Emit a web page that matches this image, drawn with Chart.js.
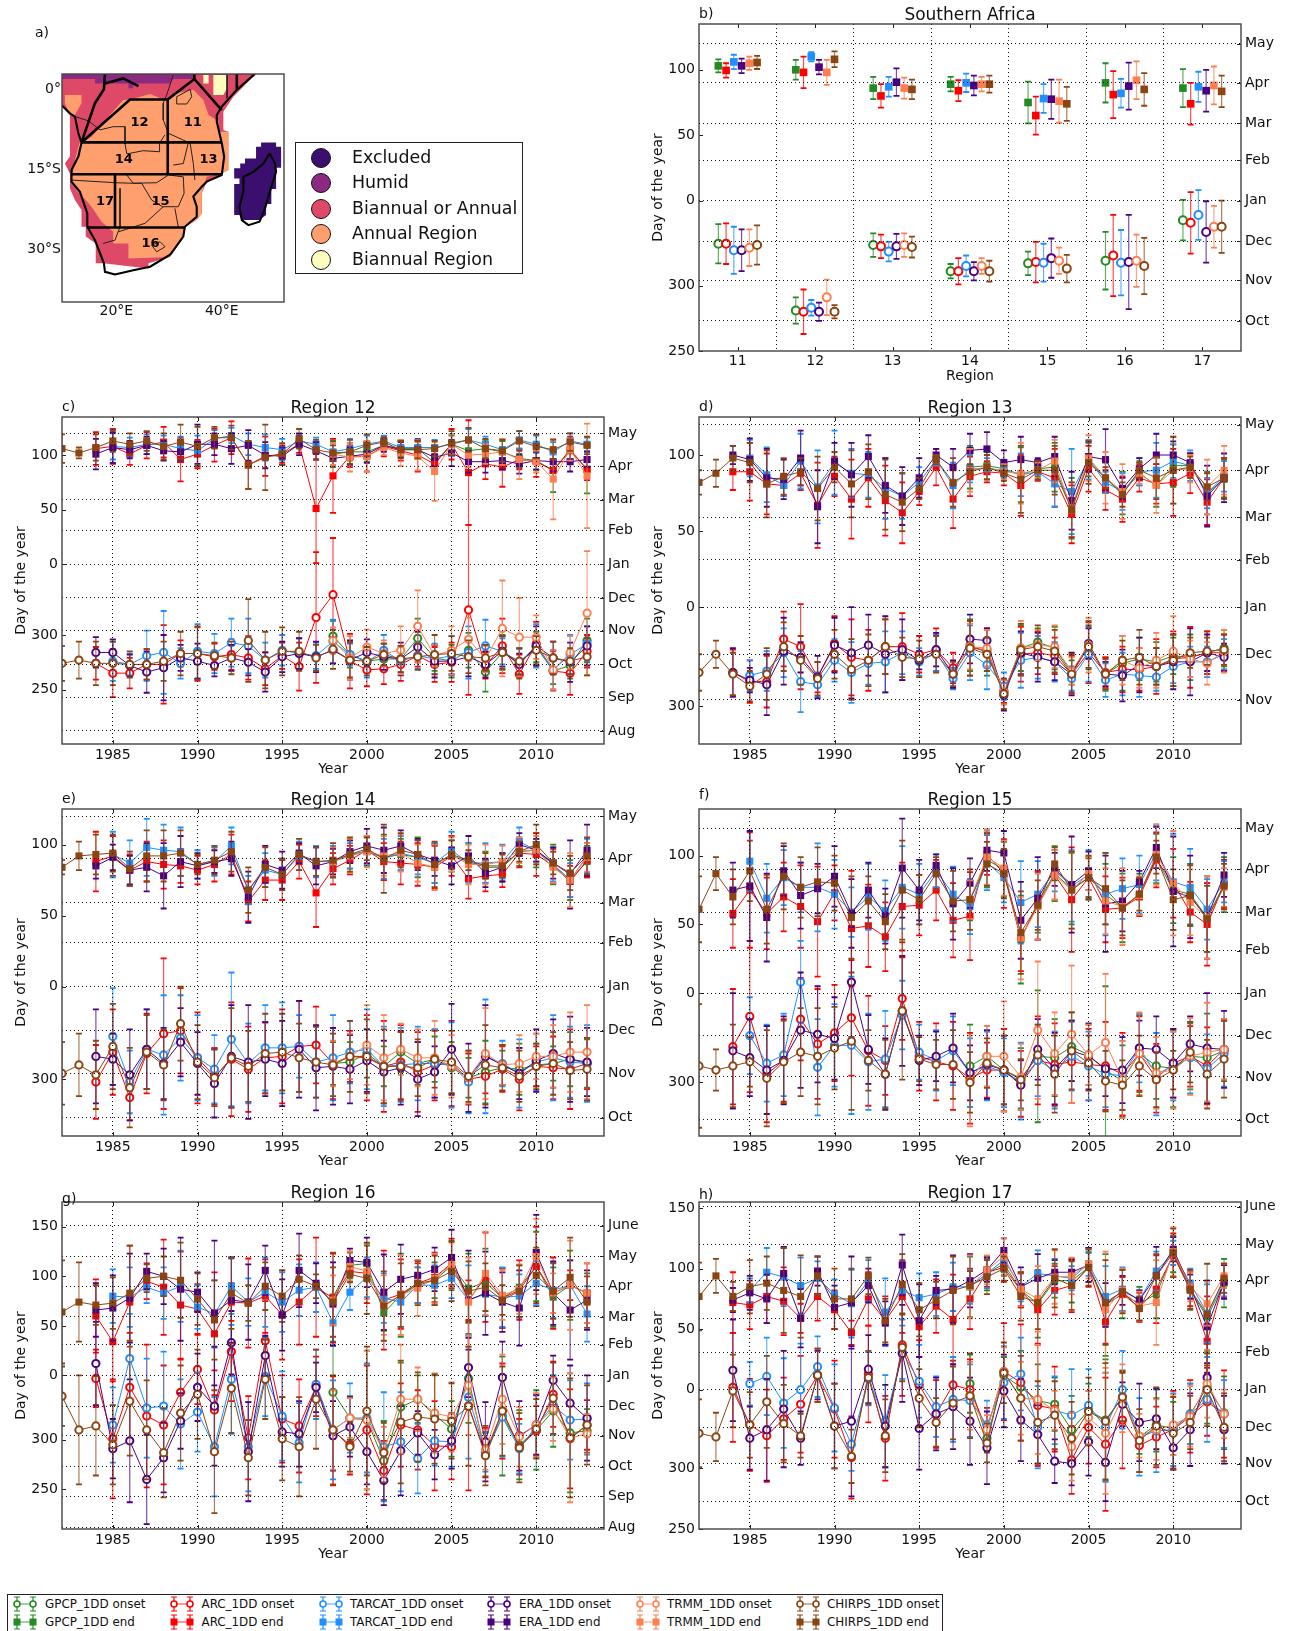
<!DOCTYPE html>
<html>
<head>
<meta charset="utf-8">
<title>Southern Africa onset and end</title>
<script src="https://cdn.jsdelivr.net/npm/chart.js@4"></script>
<style>
  html, body { margin: 0; padding: 0; background: #fff; }
  body { position: relative; width: 1290px; height: 1631px; overflow: hidden; font-family: "DejaVu Sans", sans-serif; color: #111; }
  canvas { position: absolute; }
  .letter { position: absolute; font-size: 14px; line-height: 16px; }
  #mapLegend { position: absolute; left: 295px; top: 142px; width: 228px; height: 132px; box-sizing: border-box; border: 1px solid #222; }
  #mapLegend div { position: absolute; left: 56px; font-size: 17.4px; line-height: 20px; white-space: nowrap; }
  #mapLegend i { position: absolute; left: 15px; width: 18px; height: 18px; border-radius: 50%; border: 1px solid #111; }
  #legend { position: absolute; left: 7px; top: 1594px; width: 936px; height: 40px; box-sizing: border-box; border: 1px solid #222; }
  #legend span { position: absolute; font-size: 11.9px; line-height: 14px; white-space: nowrap; }
  #legend svg { position: absolute; }
</style>
</head>
<body>
<script>
// series, in drawing order
const seriesNames = ["GPCP_1DD", "ARC_1DD", "TARCAT_1DD", "ERA_1DD", "TRMM_1DD", "CHIRPS_1DD"];
const seriesKeys = ["Gpcp", "Arc", "Tarcat", "Era", "Trmm", "Chirps"];
const seriesColors = ["#228B22", "#FF0000", "#1E90FF", "#4B0082", "#FF7F50", "#8B4513"];
const seriesStart = [1998, 1984, 1985, 1984, 1998, 1982];

const yearTicks = [1985, 1990, 1995, 2000, 2005, 2010];
const monthNames = ["June", "May", "Apr", "Mar", "Feb", "Jan", "Dec", "Nov", "Oct", "Sep", "Aug"];
const monthDays = [151, 120, 90, 59, 31, 0, -31, -61, -92, -122, -153];
const dayTicks = [150, 100, 50, 0, -65, -115];

// panel b, one value per region 11..17 (days relative to 1 Jan, negative = before it)
const bRegions = [11, 12, 13, 14, 15, 16, 17];
const bOffsets = [-0.25, -0.15, -0.05, 0.05, 0.15, 0.25];
var bGpcpEnd = [103, 100, 86, 89, 75, 90, 86], bGpcpEndErr = [5, 7.5, 8.5, 5.5, 16, 15, 14.5];
var bArcEnd = [99.5, 98, 80, 84, 65, 81, 74], bArcEndErr = [5.5, 12, 9, 8, 14.5, 18, 16];
var bTarcatEnd = [106, 110, 87, 90, 78, 82, 87], bTarcatEndErr = [5.5, 3.5, 7.5, 7, 11, 11, 11.5];
var bEraEnd = [103, 102, 90.5, 88, 77.5, 87.5, 84], bEraEndErr = [5.5, 5.5, 10.5, 7.5, 15, 18, 16];
var bTrmmEnd = [105, 98, 86, 89, 76, 92, 88], bTrmmEndErr = [5, 9.5, 8, 5.5, 16.5, 14.5, 14.5];
var bChirpsEnd = [105.6, 108, 85, 89, 74, 85, 83.5], bChirpsEndErr = [5, 6, 7.5, 6.5, 13, 12.5, 12];
var bGpcpOn = [-33, -84, -34, -54, -48, -46, -15], bGpcpOnErr = [15, 10, 9, 5.5, 9, 22, 15.5];
var bArcOn = [-33, -85, -35, -54, -47, -42, -17], bArcOnErr = [15.5, 17, 9, 10, 15.5, 31, 23.5];
var bTarcatOn = [-38, -82, -39, -50, -47.5, -47.5, -11], bTarcatOnErr = [18, 6, 7.5, 8, 14.5, 25, 19];
var bEraOn = [-38, -85, -35, -54, -44, -47, -24], bEraOnErr = [16, 7, 9.5, 7, 15, 36, 23.5];
var bTrmmOn = [-36, -74, -34, -50, -46, -46, -20], bTrmmOnErr = [14, 13.5, 9, 6, 10, 20, 16];
var bChirpsOn = [-34, -85, -35.5, -54, -52, -50, -20], bChirpsOnErr = [15, 5, 8, 8, 10.5, 21.5, 20];

// Region 12
var r12GpcpEnd = [101,103,103,109,106,106,93,110,104,106,103,97,95,86,104,87];
var r12GpcpEndErr = [12,8,9,5,7,8,8,8,8,8,10,9,9,20,8,22];
var r12GpcpOn = [-66,-83,-89,-87,-87,-68,-86,-89,-79,-99,-81,-91,-76,-98,-93,-70];
var r12GpcpOnErr = [14,12,8,10,12,18,12,15,16,18,16,14,14,12,12,20];
var r12ArcEnd = [106,108,101,109,112,96,101,109,116,91,99,101,110,51,81,99,99,108,104,100,92,110,84,92,89,96,94,86,105,87];
var r12ArcEndErr = [15,16,10,12,14,20,13,15,15,22,18,8,8,50,34,10,14,9,9,15,9,14,48,14,18,9,14,8,12,10];
var r12ArcOn = [-91,-100,-100,-92,-92,-82,-82,-85,-83,-86,-96,-84,-94,-49,-28,-89,-97,-96,-92,-84,-92,-90,-42,-93,-75,-101,-73,-98,-100,-80];
var r12ArcOnErr = [15,22,14,14,36,12,25,12,14,20,15,12,22,60,52,25,15,14,15,10,16,18,78,12,25,18,20,18,20,15];
var r12TarcatEnd = [108,107,110,110,106,104,115,118,110,107,105,113,110,103,106,110,113,107,107,107,110,114,110,105,114,110,103,113,110];
var r12TarcatEndErr = [12,9,9,8,11,14,8,7,10,12,10,6,6,8,9,8,5,7,7,7,9,10,7,10,8,8,9,7,6];
var r12TarcatOn = [-89,-92,-84,-81,-91,-80,-82,-72,-75,-88,-79,-82,-84,-71,-83,-90,-79,-89,-84,-87,-84,-81,-75,-80,-90,-75,-97,-83,-73];
var r12TarcatOnErr = [18,10,23,38,14,25,18,22,25,16,14,14,12,20,10,14,14,12,12,14,18,24,24,12,12,20,18,18,16];
var r12EraEnd = [101,107,105,109,104,103,110,110,106,109,100,99,110,104,97,99,101,109,105,105,98,102,94,94,95,92,95,94,94,96];
var r12EraEndErr = [14,14,8,8,9,8,18,10,14,14,12,8,10,8,6,8,8,6,7,8,8,12,10,10,8,9,8,9,9,7];
var r12EraOn = [-81,-81,-93,-99,-95,-86,-89,-93,-86,-90,-99,-85,-82,-85,-79,-88,-81,-85,-87,-76,-89,-89,-85,-92,-80,-92,-75,-86,-90,-75];
var r12EraOnErr = [14,12,10,19,30,12,16,10,12,12,18,14,14,14,12,18,12,12,15,14,15,12,18,12,14,10,18,15,18,18];
var r12TrmmEnd = [101,98,99,107,102,99,85,110,100,101,103,96,94,78,105,81];
var r12TrmmEndErr = [10,13,14,7,12,13,27,9,11,9,12,18,10,37,10,48];
var r12TrmmOn = [-70,-86,-76,-82,-79,-57,-84,-79,-69,-87,-59,-67,-67,-97,-81,-45];
var r12TrmmOnErr = [12,20,16,12,22,33,10,22,20,12,44,36,20,18,15,57];
var r12ChirpsEnd = [106,102,107,113,110,113,108,112,108,116,116,91,98,101,115,105,102,103,109,112,105,105,106,111,114,106,104,113,108,105,112,109];
var r12ChirpsEndErr = [13,5,12,10,10,9,12,16,18,10,11,22,30,10,9,9,7,11,10,4,8,8,7,11,11,9,10,9,11,9,8,8];
var r12ChirpsOn = [-91,-88,-91,-91,-92,-92,-89,-82,-82,-84,-86,-70,-88,-80,-80,-86,-78,-88,-89,-83,-87,-85,-83,-82,-85,-86,-81,-89,-79,-86,-89,-85];
var r12ChirpsOnErr = [16,17,20,20,12,14,18,20,24,12,15,38,26,22,18,12,18,16,13,10,12,12,18,16,15,12,15,12,13,15,12,17];

// Region 13
var r13GpcpEnd = [92,93,91,87,91,92,65,97,85,75,88,80,93,93,75,84];
var r13GpcpEndErr = [14,9,6,18,5,16,20,11,10,14,8,14,14,8,14,13];
var r13GpcpOn = [-25,-30,-56,-27,-23,-27,-43,-25,-44,-37,-34,-36,-32,-33,-30,-27];
var r13GpcpOnErr = [17,15,8,15,9,14,8,16,11,18,14,13,12,15,14,12];
var r13ArcEnd = [89,89,81,80,88,67,86,71,85,70,62,76,92,71,86,89,88,80,89,85,61,91,77,71,85,81,82,88,69,85];
var r13ArcEndErr = [12,19,20,7,11,28,13,26,19,23,20,9,12,19,13,7,8,20,6,19,19,15,13,15,9,13,22,13,15,13];
var r13ArcOn = [-43,-49,-49,-21,-26,-46,-24,-33,-35,-26,-26,-31,-28,-40,-27,-28,-55,-31,-30,-32,-44,-30,-43,-41,-41,-39,-34,-33,-30,-30];
var r13ArcOnErr = [15,14,17,18,28,10,18,25,20,18,22,12,14,10,18,14,8,18,14,12,12,20,10,15,14,18,18,20,14,12];
var r13TarcatEnd = [98,87,80,96,79,95,88,87,78,73,82,97,80,91,91,90,87,89,81,76,97,82,76,89,90,96,93,75,86];
var r13TarcatEndErr = [12,18,7,18,24,21,16,15,20,15,10,4,15,9,7,5,14,5,15,28,13,7,12,9,18,11,10,10,10];
var r13TarcatOn = [-45,-42,-30,-49,-51,-35,-43,-37,-36,-30,-36,-30,-47,-30,-38,-52,-35,-33,-36,-47,-31,-48,-44,-45,-46,-39,-36,-36,-31];
var r13TarcatOnErr = [10,13,16,20,8,14,20,14,20,14,9,12,7,18,16,9,18,14,13,8,18,11,14,14,9,11,10,10,10];
var r13EraEnd = [100,97,85,84,98,66,96,87,99,80,73,85,100,92,103,104,95,97,95,99,70,99,97,78,91,100,100,95,73,85];
var r13EraEndErr = [6,14,19,13,18,24,12,21,14,18,19,13,4,12,11,11,8,15,3,13,19,10,20,7,7,14,9,6,20,16];
var r13EraOn = [-43,-48,-51,-29,-33,-46,-25,-30,-25,-31,-28,-35,-28,-44,-21,-22,-58,-30,-33,-36,-44,-24,-44,-45,-38,-39,-36,-36,-30,-33];
var r13EraOnErr = [16,8,20,22,10,14,18,30,20,25,20,6,11,9,16,8,10,14,16,12,14,10,8,17,18,12,18,22,12,9];
var r13TrmmEnd = [90,92,89,88,90,96,64,98,85,76,88,80,90,91,79,90];
var r13TrmmEndErr = [14,8,5,20,5,14,18,15,17,18,7,18,22,9,18,16];
var r13TrmmOn = [-26,-27,-56,-27,-25,-26,-42,-25,-44,-35,-40,-35,-29,-34,-37,-29];
var r13TrmmOnErr = [15,12,8,18,10,14,9,18,10,16,13,18,23,12,14,14];
var r13ChirpsEnd = [82,88,98,95,81,86,89,78,92,81,89,74,69,78,97,82,89,92,88,84,90,90,64,95,85,74,90,85,90,92,79,85];
var r13ChirpsEndErr = [8,9,8,13,22,12,9,21,10,22,18,23,19,7,3,16,5,8,5,22,6,16,18,14,7,8,5,14,22,7,9,13];
var r13ChirpsOn = [-43,-31,-44,-52,-44,-26,-35,-47,-31,-41,-35,-26,-33,-34,-31,-44,-27,-31,-57,-28,-26,-29,-44,-26,-44,-35,-33,-39,-35,-30,-29,-28];
var r13ChirpsOnErr = [12,9,14,10,17,16,16,11,16,20,17,18,13,12,12,8,18,11,10,17,14,14,13,14,10,13,18,12,17,10,9,10];

// Region 14
var r14GpcpEnd = [88,93,95,91,93,91,87,92,88,84,84,95,96,86,75,88];
var r14GpcpEndErr = [11,10,10,16,11,14,14,11,13,11,10,10,12,14,14,11];
var r14GpcpOn = [-54,-53,-47,-56,-46,-54,-51,-57,-64,-60,-57,-58,-55,-54,-51,-54];
var r14GpcpOnErr = [15,14,17,14,14,15,16,18,14,22,12,18,15,12,19,17];
var r14ArcEnd = [88,92,82,88,86,85,82,86,93,60,75,75,88,66,83,89,96,88,87,86,84,92,76,78,79,94,93,85,74,89];
var r14ArcEndErr = [21,14,11,14,17,12,10,12,14,14,14,14,12,24,11,10,10,13,15,15,15,14,14,11,9,10,15,12,11,12];
var r14ArcOn = [-67,-46,-78,-47,-33,-31,-50,-63,-51,-58,-50,-49,-42,-41,-54,-49,-50,-56,-53,-60,-55,-54,-65,-63,-58,-65,-56,-57,-58,-54];
var r14ArcOnErr = [26,30,16,28,53,30,32,20,40,30,25,33,32,27,25,18,30,32,26,28,25,30,18,12,16,22,14,22,28,18];
var r14TarcatEnd = [93,87,98,96,95,86,88,99,68,82,79,92,88,88,92,96,90,94,91,87,96,87,87,88,102,96,86,75,92];
var r14TarcatEndErr = [16,16,20,18,17,10,10,13,10,12,11,10,11,11,9,10,14,12,12,14,13,14,14,12,10,8,12,12,12];
var r14TarcatOn = [-35,-67,-44,-48,-36,-50,-58,-37,-54,-43,-43,-42,-53,-50,-46,-44,-56,-55,-54,-54,-55,-67,-49,-54,-61,-53,-50,-53,-54];
var r14TarcatOnErr = [34,22,28,42,30,30,24,47,28,30,32,22,25,30,22,28,28,26,26,24,30,22,40,16,24,20,30,25,27];
var r14EraEnd = [85,91,82,84,78,88,85,88,90,63,86,82,94,85,88,95,99,96,99,93,89,85,92,80,84,100,96,87,79,96];
var r14EraEndErr = [9,9,10,17,23,18,9,8,12,18,13,13,7,13,9,8,12,16,11,11,11,13,14,10,10,8,8,11,24,18];
var r14EraOn = [-49,-51,-62,-44,-54,-39,-54,-68,-49,-53,-51,-54,-44,-57,-56,-58,-52,-60,-57,-65,-60,-44,-64,-49,-55,-61,-52,-47,-51,-53];
var r14EraOnErr = [33,18,32,28,25,24,22,24,36,40,26,30,34,30,27,24,22,22,26,26,18,32,24,36,14,18,22,24,30,24];
var r14TrmmEnd = [88,92,95,92,94,87,84,93,86,86,88,96,96,84,75,91];
var r14TrmmEndErr = [10,12,11,14,13,13,16,12,14,14,11,9,10,11,19,10];
var r14TrmmOn = [-54,-49,-41,-50,-44,-50,-50,-56,-64,-47,-55,-54,-49,-49,-46,-46];
var r14TrmmOnErr = [16,16,28,30,18,20,26,22,18,32,14,20,16,22,28,33];
var r14ChirpsEnd = [84,92,93,94,83,92,92,94,86,89,95,68,84,79,93,88,89,93,97,90,96,93,86,93,89,85,85,95,100,87,80,92];
var r14ChirpsEndErr = [5,10,14,13,12,18,18,16,7,10,14,16,14,11,11,10,12,12,8,24,12,10,16,10,7,9,8,7,14,8,12,13];
var r14ChirpsOn = [-61,-55,-62,-42,-71,-46,-55,-26,-53,-64,-50,-56,-47,-46,-50,-53,-55,-49,-49,-56,-56,-57,-51,-53,-63,-55,-57,-63,-56,-54,-59,-58];
var r14ChirpsOnErr = [22,22,24,30,28,26,25,26,26,20,35,25,28,27,24,25,22,25,26,26,24,20,20,22,18,28,16,18,16,22,20,22];

// Region 15
var r15GpcpEnd = [68,97,90,39,66,87,76,84,72,62,72,98,75,72,55,79];
var r15GpcpEndErr = [15,20,20,32,22,20,26,14,22,25,15,18,24,22,25,20];
var r15GpcpOn = [-53,-46,-56,-62,-46,-47,-39,-45,-56,-64,-44,-53,-55,-46,-47,-42];
var r15GpcpOnErr = [30,22,30,22,48,28,25,22,61,26,28,24,28,24,32,22];
var r15ArcEnd = [58,75,58,70,63,52,73,47,49,41,63,64,75,53,56,101,87,40,64,86,68,84,61,62,70,97,80,59,50,79];
var r15ArcEndErr = [25,42,26,25,30,40,20,42,30,25,32,22,22,27,32,15,25,24,25,18,38,15,24,22,14,20,25,22,30,18];
var r15ArcOn = [-39,-17,-59,-49,-19,-37,-29,-18,-42,-49,-4,-46,-50,-53,-62,-56,-56,-66,-49,-52,-50,-52,-53,-59,-44,-62,-51,-46,-53,-41];
var r15ArcOnErr = [42,55,35,30,30,40,35,42,40,25,30,25,28,32,33,20,30,24,32,30,30,26,32,30,27,25,25,22,28,22];
var r15TarcatEnd = [96,69,84,77,77,72,59,70,60,77,72,89,72,63,95,84,66,72,89,78,86,72,76,79,102,81,77,61,81];
var r15TarcatEndErr = [22,25,20,18,32,25,18,24,22,30,22,12,20,20,20,18,30,24,15,26,18,30,22,21,20,35,28,22,15];
var r15TarcatOn = [-31,-51,-45,8,-54,-38,-38,-50,-48,-16,-43,-49,-42,-58,-53,-58,-64,-49,-56,-46,-53,-59,-60,-40,-59,-53,-47,-55,-44];
var r15TarcatOnErr = [28,28,30,30,35,30,50,35,35,25,20,22,25,25,25,25,28,26,28,25,25,24,25,25,30,25,26,25,24];
var r15EraEnd = [75,78,55,89,71,76,85,58,75,56,91,75,93,65,80,104,102,53,69,90,79,89,65,67,81,106,74,70,55,86];
var r15EraEndErr = [20,40,32,18,24,18,22,25,20,20,36,22,8,26,18,15,16,28,30,12,35,14,35,22,8,15,40,30,30,16];
var r15EraOn = [-42,-47,-56,-49,-27,-30,-33,8,-41,-59,-13,-49,-46,-40,-58,-52,-56,-67,-41,-55,-42,-46,-55,-56,-40,-41,-51,-37,-40,-41];
var r15EraOnErr = [42,28,32,32,42,35,30,40,25,26,40,18,18,25,20,25,25,18,22,26,22,24,20,24,20,24,25,20,40,28];
var r15TrmmEnd = [68,99,91,40,63,86,75,87,67,63,71,101,80,66,55,77];
var r15TrmmEndErr = [14,20,20,30,24,18,28,12,24,28,14,22,38,24,30,14];
var r15TrmmOn = [-64,-46,-46,-61,-27,-44,-30,-45,-36,-63,-44,-58,-56,-46,-43,-41];
var r15TrmmOnErr = [33,22,40,24,50,30,50,22,50,28,30,26,28,28,36,22];
var r15ChirpsEnd = [61,87,70,89,61,85,77,81,80,55,67,52,75,68,87,67,68,94,87,44,64,94,75,84,76,62,72,99,68,71,54,78];
var r15ChirpsEndErr = [24,12,20,22,25,24,22,25,20,30,18,20,36,18,12,22,22,16,18,30,18,12,28,16,26,20,12,12,22,22,24,16];
var r15ChirpsOn = [-53,-56,-53,-50,-62,-50,-43,-46,-40,-35,-49,-59,-13,-48,-52,-52,-65,-51,-56,-63,-45,-59,-42,-51,-64,-67,-53,-63,-56,-43,-59,-48];
var r15ChirpsOnErr = [45,15,30,18,35,30,32,35,30,50,22,25,50,16,18,25,22,18,25,15,22,28,28,20,22,18,22,20,14,22,25,28];

// Region 16
var r16GpcpEnd = [79,111,113,63,81,91,96,111,88,94,78,89,110,79,91,83];
var r16GpcpEndErr = [45,13,18,18,42,18,18,25,35,34,30,22,35,30,35,20];
var r16GpcpOn = [-17,-43,-45,-86,-32,-24,-40,-54,-3,-80,-41,-70,-55,-36,-58,-56];
var r16GpcpOnErr = [47,22,70,40,45,24,40,28,45,22,60,35,40,36,60,22];
var r16ArcEnd = [60,34,74,95,89,71,67,42,74,73,80,61,74,89,78,105,103,76,82,93,99,113,76,99,78,86,110,83,91,83];
var r16ArcEndErr = [37,40,57,18,48,54,25,62,19,45,37,45,43,50,45,20,30,50,35,20,25,25,20,45,30,30,40,36,15,30];
var r16ArcOn = [-3,-64,-12,-41,-50,-17,6,-35,24,-63,35,-44,-51,-11,-56,-70,-55,-96,-50,-55,-71,-72,-31,-78,-36,-72,-56,-19,-64,-50];
var r16ArcOnErr = [29,60,55,72,60,33,35,40,50,42,40,44,47,30,55,30,65,30,42,40,45,33,85,25,48,28,25,33,50,25];
var r16TarcatEnd = [80,79,89,83,90,69,62,90,74,84,74,86,89,53,84,99,78,74,91,91,98,76,82,79,80,93,86,91,62];
var r16TarcatEndErr = [27,30,16,26,36,22,34,28,24,35,30,26,25,23,18,20,25,25,18,20,20,35,22,30,22,22,28,25,28];
var r16TarcatOn = [-50,17,-33,-31,-49,-37,-72,-4,-72,-1,-41,-68,-9,-55,-43,-43,-72,-67,-84,-66,-67,-22,-77,-42,-74,-51,-30,-45,-44];
var r16TarcatOnErr = [38,45,50,55,45,40,50,55,45,40,45,40,35,50,35,55,55,50,35,25,25,62,20,40,25,32,30,40,36];
var r16EraEnd = [66,68,78,105,100,87,84,63,76,74,106,61,106,93,72,116,114,84,97,101,107,119,76,83,74,68,124,83,66,76];
var r16EraEndErr = [27,33,45,18,28,52,20,73,43,38,25,36,37,20,42,12,25,38,35,15,22,28,50,42,30,38,38,32,50,30];
var r16EraOn = [12,-74,-66,-105,-83,-46,-12,-31,33,-77,20,-57,-59,-12,-61,-52,-77,-106,-76,-58,-80,-66,8,-67,-2,-61,-50,-5,-28,-43];
var r16EraOnErr = [42,30,62,45,35,28,34,60,32,50,20,35,33,25,35,30,33,25,45,22,25,28,30,40,36,35,30,25,38,43];
var r16TrmmEnd = [76,110,105,71,81,88,98,112,74,103,81,87,120,83,91,83];
var r16TrmmEndErr = [25,15,28,30,40,28,25,22,45,42,25,25,38,20,45,30];
var r16TrmmOn = [-55,-43,-45,-77,-24,-24,-38,-42,-10,-75,-24,-62,-50,-34,-63,-59];
var r16TrmmOnErr = [40,20,70,25,55,32,40,35,50,20,45,30,32,32,65,20];
var r16ChirpsEnd = [64,74,71,73,83,98,100,96,77,56,83,73,90,80,97,90,74,102,98,70,81,93,96,105,85,89,76,85,101,85,99,74];
var r16ChirpsEndErr = [52,40,20,26,48,14,20,38,26,40,36,18,24,26,24,12,35,8,36,35,32,22,25,30,30,24,15,26,28,28,40,26];
var r16ChirpsOn = [-21,-55,-51,-70,-26,-55,-78,-38,-19,-77,-13,-83,-4,-64,-72,-24,-55,-72,-36,-78,-47,-42,-44,-46,-31,-81,-36,-73,-54,-23,-63,-50];
var r16ChirpsOnErr = [30,55,50,40,55,50,45,48,45,62,45,38,40,42,50,50,55,25,65,30,62,45,45,38,60,30,45,35,30,36,60,40];

// Region 17
var r17GpcpEnd = [85,96,104,82,71,90,90,101,70,79,71,79,112,82,60,88];
var r17GpcpEndErr = [25,14,10,14,28,14,18,12,42,20,14,20,15,16,30,20];
var r17GpcpOn = [5,-40,12,2,-9,-12,-33,-17,-25,-6,-39,-29,-32,-20,2,-19];
var r17GpcpOnErr = [24,12,15,30,30,22,28,22,50,22,14,22,22,25,30,30];
var r17ArcEnd = [72,70,77,73,59,77,66,47,75,57,77,52,69,58,75,97,101,82,66,82,86,101,56,79,68,83,111,83,40,90];
var r17ArcEndErr = [25,20,22,28,12,20,16,10,22,20,30,25,22,37,25,12,12,14,28,20,22,16,18,14,12,28,18,14,37,14];
var r17ArcOn = [2,-29,-38,-24,-12,12,-16,-56,13,-40,37,4,-20,4,0,-33,15,6,-13,-16,-58,-31,-45,-25,-46,-39,-33,-22,-10,-20];
var r17ArcOnErr = [45,38,38,34,40,22,40,34,40,35,42,37,28,20,25,18,40,48,50,35,28,30,55,40,22,25,32,30,28,36];
var r17TarcatEnd = [82,97,93,86,92,79,71,90,64,82,76,79,85,85,96,107,85,96,94,92,104,77,83,74,98,113,88,63,90];
var r17TarcatEndErr = [10,20,24,23,14,12,28,17,28,24,20,18,20,14,12,10,12,19,14,10,10,25,18,8,16,10,12,24,13];
var r17TarcatOn = [5,11,-11,0,19,-15,-45,9,-26,31,7,-14,-8,-9,-29,6,13,-31,-17,-21,-13,-31,0,-39,-34,-33,-20,-8,-20];
var r17TarcatOnErr = [18,32,37,38,25,36,22,22,38,22,30,25,35,30,20,30,30,34,28,38,30,45,32,32,34,30,25,35,28];
var r17EraEnd = [74,80,75,96,59,98,68,72,86,55,103,57,82,83,90,99,115,85,92,97,97,103,70,82,74,94,116,85,52,89];
var r17EraEndErr = [10,14,20,22,24,12,18,38,14,18,25,30,12,28,22,10,10,16,20,10,10,14,18,12,8,24,10,10,38,14];
var r17EraOn = [16,-40,-33,-16,-40,12,-30,-26,17,-30,30,-32,-20,-14,-26,-48,-1,-25,-37,-59,-61,-43,-60,-12,-27,-24,-48,-33,10,-33];
var r17EraOnErr = [42,26,42,48,22,20,35,62,28,34,40,34,30,35,36,30,30,34,24,18,18,28,32,18,32,25,18,30,12,28];
var r17TrmmEnd = [85,99,110,83,75,93,94,104,66,82,69,72,114,85,71,94];
var r17TrmmEndErr = [26,12,15,14,27,22,15,12,48,18,12,35,20,12,18,10];
var r17TrmmOn = [-5,-33,15,-7,-8,-17,-47,-23,-36,-7,-38,-33,-29,-22,5,-20];
var r17TrmmOnErr = [28,12,20,30,45,16,28,22,50,28,18,25,25,25,28,20];
var r17ChirpsEnd = [77,94,77,85,88,82,77,94,75,75,94,57,87,66,74,82,86,93,100,77,72,92,86,101,72,81,67,94,113,83,62,92];
var r17ChirpsEndErr = [28,14,12,22,22,35,34,16,25,25,15,18,25,22,15,28,12,14,10,20,22,24,20,15,35,18,10,18,20,16,42,12];
var r17ChirpsOn = [-36,-39,-1,-29,-10,-28,-38,12,-30,-55,10,-38,35,-7,-27,-11,-5,-44,14,-7,-27,-21,-40,-18,-26,-6,-42,-30,-36,-27,0,-31];
var r17ChirpsOnErr = [28,20,30,27,38,32,18,22,35,22,22,30,28,24,20,30,35,16,25,35,34,28,30,28,48,20,26,32,30,22,30,28];

// map of panel a, [lon, lat]
const classNames = ["Excluded", "Humid", "Biannual or Annual", "Annual Region", "Biannual Region"];
const classColors = ["#3B0F70", "#8C2981", "#DE4968", "#FE9F6D", "#FCFDBF"];
const pinkArea = [[9.6,2.9],[46.3,2.9],[44.4,.8],[42.2,-1.4],[40.3,-4.2],[40.3,-7.6],[41.25,-7.95],[41.25,-15.1],[40,-15.75],[37.15,-17.3],[36.2,-19.5],[36.2,-23.25],[35.25,-24.5],[33,-25.75],[32.4,-28.25],[30.2,-31.4],[26.1,-32.6],[26.1,-33.55],[17.5,-32.6],[16.1,-32.6],[16.1,-28.9],[14.2,-27.6],[14.2,-25.75],[13.4,-25.75],[13.4,-22.6],[12.15,-20.75],[11.2,-18.55],[11.2,-15.75],[10.25,-13.9],[11.2,-12.6],[11.2,-4.8],[9.6,-2.95]];
const annualArea = [[22.6,-1.9],[26.4,-.9],[28.9,-1.9],[30.8,-1.4],[31.45,-.75],[34.6,-.1],[36.5,-2],[37.5,-4.8],[39.4,-6.05],[39.4,-7.95],[41.25,-7.95],[41.25,-15.1],[40,-15.75],[37.15,-16.4],[36.2,-19.5],[36.2,-23.25],[35.25,-24.5],[33,-25.75],[32.4,-28.25],[30.2,-31.4],[22.3,-31.7],[22.3,-28.9],[19.4,-28.9],[19.4,-26.7],[17.2,-24.8],[15.3,-22],[14.2,-20.75],[12.5,-19],[11.5,-17],[12.15,-13.25],[13,-10.1],[15.3,-8.9],[18.8,-4.8],[21.3,-2]];
const annualPatch = [[10.25,-1.05],[13.4,-1.05],[13.4,-2.6],[12.15,-4.8],[11.2,-4.8],[10.25,-2.6]];
const humidArea = [[9.6,2.9],[34.6,2.9],[34.6,1.95],[30.8,1.95],[30.2,1.1],[23.2,1.1],[23.2,.2],[22.3,.2],[22.3,1.1],[15.95,1.1],[15.95,1.95],[9.6,1.95]];
const biannualArea = [[38.4,2.7],[41,2.7],[41,.2],[40.3,-1.05],[38.4,-1.05]];
const biannualPatch = [[36.5,2.7],[37.5,2.7],[37.5,1.1],[36.5,1.1]];
const excludedArea = [[47.45,-9.95],[50.3,-9.95],[50.3,-10.75],[51.25,-10.75],[51.25,-14.7],[50.3,-14.7],[50.3,-18.7],[49.4,-18.7],[49.4,-21.5],[48.4,-21.5],[48.4,-23.55],[47.15,-24.5],[43.8,-24.5],[43.35,-23.55],[42.35,-23.55],[42.35,-17.75],[43.35,-17.75],[43.35,-16.7],[42.35,-16.7],[42.35,-14.8],[43.5,-14.8],[43.5,-13.9],[44.4,-13.9],[44.4,-12.95],[46.5,-12.95],[46.5,-10.75],[47.45,-10.75]];
const coastLine = [[9.6,-2.95],[11.2,-4.5],[12.15,-5.1],[12.8,-8.25],[13.4,-10],[12.8,-12.6],[11.5,-15.1],[11.5,-17.3],[13.1,-19.2],[14.5,-23.25],[14.5,-25.75],[15.95,-28.25],[17.65,-32.6],[17.85,-34.2],[19.75,-34.7],[23.2,-33.9],[26.4,-33.25],[30.2,-31],[32.7,-27.6],[33,-25.75],[35.25,-23.9],[35.25,-22],[34.6,-20.1],[36.2,-18.25],[37.15,-17.3],[40,-16.05],[40.45,-12.6],[40,-10.1],[39.05,-6.05],[39.05,-4.8],[40,-3.25],[42.85,-.1],[46.3,2.9]];
const madagascarLine = [[49.05,-12],[50.1,-13.9],[50.3,-15.45],[49.2,-18.9],[48.2,-22.3],[47.15,-24.8],[45.05,-25.45],[43.8,-24.5],[43.35,-22],[44.1,-19.2],[44.1,-16.4],[46,-15.45],[47.9,-13.9],[49.05,-12]];
const boxLines = [
  [[13.4,-9.95],[22.6,-1.9],[29.75,-1.9]], [[13.4,-9.95],[40,-9.95]], [[29.75,-1.9],[29.75,-15.9]],
  [[11.5,-15.9],[40,-15.9]], [[19.75,-15.9],[19.75,-25.9]], [[14.5,-25.9],[32.9,-25.9]],
  [[29.75,-1.9],[34.8,1.95],[40,-3.9]], [[34.8,2.9],[34.8,1.95]], [[42.85,2.9],[42.85,-.1]],
  [[17.85,2.9],[17.65,0],[15.95,-2.6],[13.4,-9.95]], [[17.85,1.1],[21.3,2.05],[24.2,.6]]
];
const borderLines = [
  [[12.15,-5.1],[14.7,-5.9],[16.9,-7.6],[19.4,-7],[21.65,-7],[21.65,-10.25],[22,-12.1],[25.1,-11.5],[28.2,-11.7],[28.2,-10.1],[29.2,-8.55]],
  [[30.8,2.7],[29.55,-1.05],[28.9,-2.6],[28.9,-5.75],[29.9,-8.25],[34,-10.1],[34.6,-13.9],[34.9,-17]],
  [[30.8,-14.2],[32.7,-13.9],[33.7,-9.8]],
  [[11.5,-17],[19.75,-17.5],[23.2,-17.6],[27.65,-17.5],[29.9,-16.05],[32.7,-16.4],[32.85,-19.5],[31.75,-22],[28.9,-22],[25.45,-25.1],[20.4,-26.7]],
  [[21.95,-16],[23.2,-17.6],[24.8,-17.6],[26.7,-20.75],[28.9,-22.1]],
  [[20.7,-18.55],[20.7,-25.75],[19.75,-28.25],[17.5,-28.9]],
  [[31.1,-22.3],[31.75,-25.75]],
  [[26.7,-29.2],[28.3,-28.55],[29.25,-29.5],[27.65,-30.45],[26.7,-29.2]],
  [[31.45,-1.4],[34,0],[34.3,-1.4],[33.35,-2.75],[31.45,-2.75],[31.45,-1.4]],
  [[41,2.7],[41,-1.7]]
];
const mapRegionNames = ["11", "12", "13", "14", "15", "16", "17"];
const mapRegionLon = [34.5, 24.4, 37.5, 21.4, 28.4, 26.5, 17.85];
const mapRegionLat = [-6.2, -6.2, -13.1, -13.1, -21, -29, -21];
const mapLonTicks = [20, 40];
const mapLatTicks = [0, -15, -30];

Chart.defaults.font.family = '"DejaVu Sans", sans-serif';
Chart.defaults.font.size = 14;
Chart.defaults.color = "#111";
Chart.defaults.animation = false;

const PLOT_W = 542, PLOT_H = 327, LEFT_W = 62, TOP_H = 24, BOTTOM_H = 34;
const COLS = [0, 637];
const ROWS = { c: 417, e: 809, g: 1202 };

function addCanvas(x, y, w, h) {
  const c = document.createElement("canvas");
  c.width = w; c.height = h;
  c.style.left = x + "px"; c.style.top = y + "px";
  c.style.width = w + "px"; c.style.height = h + "px";
  document.body.appendChild(c);
  return c;
}

function addLetter(text, x, y) {
  const d = document.createElement("div");
  d.className = "letter";
  d.textContent = text;
  d.style.left = x + "px"; d.style.top = y + "px";
  document.body.appendChild(d);
}

function rgba(hex, a) {
  const n = parseInt(hex.slice(1), 16);
  return `rgba(${n >> 16},${(n >> 8) & 255},${n & 255},${a})`;
}

// error bars go under the line of their own dataset
const errorBars = {
  id: "errorBars",
  beforeDatasetDraw(chart, args) {
    const ds = chart.data.datasets[args.index];
    if (!ds.errs) return;
    const { ctx, chartArea: a, scales } = chart;
    ctx.save();
    ctx.beginPath();
    ctx.rect(a.left, a.top, a.right - a.left, a.bottom - a.top);
    ctx.clip();
    ds.data.forEach((p, i) => {
      const e = ds.errs[i];
      if (e === undefined) return;
      const x = scales.x.getPixelForValue(p.x);
      const y1 = scales.y.getPixelForValue(p.y + e);
      const y2 = scales.y.getPixelForValue(p.y - e);
      ctx.strokeStyle = rgba(ds.borderColor, 0.7);
      ctx.lineWidth = 1.2;
      ctx.beginPath(); ctx.moveTo(x, y1); ctx.lineTo(x, y2); ctx.stroke();
      ctx.strokeStyle = ds.borderColor;
      ctx.lineWidth = 1.8;
      ctx.beginPath();
      ctx.moveTo(x - 3, y1); ctx.lineTo(x + 3, y1);
      ctx.moveTo(x - 3, y2); ctx.lineTo(x + 3, y2);
      ctx.stroke();
    });
    ctx.restore();
  }
};

// axes frame with matplotlib style inward ticks
const frame = {
  id: "frame",
  afterDraw(chart) {
    const { ctx, chartArea: a, scales } = chart;
    const opts = chart.options.plugins.frame || {};
    ctx.save();
    ctx.strokeStyle = "#222";
    ctx.lineWidth = 1;
    if (opts.ticks !== false) {
      scales.y.ticks.forEach(t => {
        const p = Math.round(scales.y.getPixelForValue(t.value)) + 0.5;
        ctx.beginPath(); ctx.moveTo(a.left, p); ctx.lineTo(a.left + 4, p); ctx.stroke();
      });
      scales.yr.ticks.forEach(t => {
        const p = Math.round(scales.yr.getPixelForValue(t.value)) + 0.5;
        ctx.beginPath(); ctx.moveTo(a.right, p); ctx.lineTo(a.right - 4, p); ctx.stroke();
      });
      scales.x.ticks.filter(t => Number.isInteger(t.value)).forEach(t => {
        const p = Math.round(scales.x.getPixelForValue(t.value)) + 0.5;
        ctx.beginPath();
        ctx.moveTo(p, a.bottom); ctx.lineTo(p, a.bottom - 4);
        ctx.moveTo(p, a.top); ctx.lineTo(p, a.top + 4);
        ctx.stroke();
      });
    }
    ctx.strokeStyle = "#444";
    ctx.lineWidth = 1.4;
    ctx.strokeRect(a.left, a.top, a.right - a.left, a.bottom - a.top);
    ctx.restore();
  }
};

function fixedScale(extra) {
  return Object.assign({ border: { display: false, dash: [1, 3] }, grid: { display: false, drawTicks: false } }, extra);
}

const dottedGrid = { display: true, color: "#111", lineWidth: 1, drawTicks: false, z: 1 };

function yAxes(min, max, rightW) {
  return {
    y: fixedScale({
      type: "linear", position: "left", min, max,
      afterBuildTicks: s => { s.ticks = dayTicks.filter(v => v >= min && v <= max).map(v => ({ value: v })); },
      afterFit: s => { s.width = LEFT_W; },
      ticks: { padding: 4, autoSkip: false, callback: v => (v < 0 ? v + 365 : v) },
      title: { display: true, text: "Day of the year", padding: { top: 12.5, bottom: 0 }, font: { size: 14 } }
    }),
    yr: fixedScale({
      type: "linear", position: "right", min, max,
      grid: dottedGrid,
      afterBuildTicks: s => { s.ticks = monthDays.filter(v => v >= min && v <= max).map(v => ({ value: v })); },
      afterFit: s => { s.width = rightW; },
      ticks: { padding: 4, autoSkip: false, callback: v => monthNames[monthDays.indexOf(v)] }
    })
  };
}

function baseOptions(title, scales) {
  return {
    responsive: false,
    devicePixelRatio: 1,
    animation: false,
    layout: { padding: { top: TOP_H - 20.4 + 1.5 } },
    plugins: {
      legend: { display: false },
      tooltip: { enabled: false },
      title: { display: true, text: title, fullSize: false, font: { size: 17, weight: "normal" }, padding: { top: 0, bottom: -1.5 }, color: "#111" }
    },
    scales
  };
}

function seriesDataset(xs, ys, errs, color, isOnset, idx, big) {
  return {
    data: ys.map((v, i) => ({ x: xs[i], y: v })),
    errs,
    showLine: !big,
    borderColor: color,
    backgroundColor: color,
    borderWidth: 1,
    tension: 0,
    pointStyle: isOnset ? "circle" : "rect",
    pointRadius: isOnset ? (big ? 4 : 3.6) : (big ? 5.4 : 5),
    pointBackgroundColor: isOnset ? "#fff" : color,
    pointBorderColor: color,
    pointBorderWidth: isOnset ? 2 : 0,
    order: -idx
  };
}

// panel b
function drawOverview() {
  const datasets = [];
  seriesKeys.forEach((k, s) => {
    const xs = bRegions.map(r => r + bOffsets[s]);
    datasets.push(seriesDataset(xs, window[`b${k}On`], window[`b${k}OnErr`], seriesColors[s], true, s * 2, true));
    datasets.push(seriesDataset(xs, window[`b${k}End`], window[`b${k}EndErr`], seriesColors[s], false, s * 2 + 1, true));
  });
  const scales = yAxes(-115, 135, 49);
  scales.x = fixedScale({
    type: "linear", position: "bottom", min: 10.5, max: 17.5,
    // dotted lines sit between regions, labels on the regions
    grid: Object.assign({}, dottedGrid, { color: c => (Number.isInteger(c.tick.value) ? "rgba(0,0,0,0)" : "#111") }),
    afterBuildTicks: s => {
      s.ticks = [];
      bRegions.forEach(v => { s.ticks.push({ value: v }); if (v < 17) s.ticks.push({ value: v + 0.5 }); });
    },
    afterFit: s => { s.height = BOTTOM_H; },
    ticks: { padding: 2, maxRotation: 0, autoSkip: false, callback: v => (Number.isInteger(v) ? String(v) : "") },
    title: { display: true, text: "Region", padding: 0, font: { size: 14 } }
  });
  const c = addCanvas(COLS[1], 0, 653, TOP_H + PLOT_H + BOTTOM_H);
  new Chart(c, {
    type: "line",
    data: { datasets },
    options: baseOptions("Southern Africa", scales),
    plugins: [errorBars, frame]
  });
}

// panels c to h
function drawRegion(region, col, rowTop, min, max) {
  const datasets = [];
  seriesKeys.forEach((k, s) => {
    const mk = arr => arr.map((_, i) => seriesStart[s] + i);
    const on = window[`r${region}${k}On`], end = window[`r${region}${k}End`];
    datasets.push(seriesDataset(mk(on), on, window[`r${region}${k}OnErr`], seriesColors[s], true, s * 2, false));
    datasets.push(seriesDataset(mk(end), end, window[`r${region}${k}EndErr`], seriesColors[s], false, s * 2 + 1, false));
  });
  const rightW = col === 0 ? 46 : 49;
  const scales = yAxes(min, max, rightW);
  scales.x = fixedScale({
    type: "linear", position: "bottom", min: 1982, max: 2014,
    grid: dottedGrid,
    afterBuildTicks: s => { s.ticks = yearTicks.map(v => ({ value: v })); },
    afterFit: s => { s.height = BOTTOM_H; },
    ticks: { padding: 3, maxRotation: 0, autoSkip: false, callback: v => String(v) },
    title: { display: true, text: "Year", padding: 0, font: { size: 14 } }
  });
  const c = addCanvas(COLS[col], rowTop - TOP_H, LEFT_W + PLOT_W + rightW, TOP_H + PLOT_H + BOTTOM_H);
  new Chart(c, {
    type: "line",
    data: { datasets },
    options: baseOptions("Region " + region, scales),
    plugins: [errorBars, frame]
  });
}

// panel a
function drawMap() {
  const shape = (pts, color) => ({ data: pts.map(p => ({ x: p[0], y: p[1] })), showLine: true, fill: "shape", backgroundColor: color, borderColor: color, borderWidth: 0, pointRadius: 0, tension: 0 });
  const line = (pts, w, color) => ({ data: pts.map(p => ({ x: p[0], y: p[1] })), showLine: true, fill: false, borderColor: color || "#000", borderWidth: w, pointRadius: 0, tension: 0 });
  const datasets = [
    shape(pinkArea, classColors[2]), shape(annualArea, classColors[3]), shape(annualPatch, classColors[3]),
    shape(humidArea, classColors[1]), shape(biannualArea, classColors[4]), shape(biannualPatch, classColors[4]),
    shape(excludedArea, classColors[0])
  ];
  borderLines.forEach(l => datasets.push(line(l, 1, "#222")));
  datasets.push(line(coastLine, 2.1), line(madagascarLine, 2.1));
  boxLines.forEach(l => datasets.push(line(l, 2.6)));
  datasets.forEach((d, i) => { d.order = -i; });

  const regionLabels = {
    id: "regionLabels",
    afterDatasetsDraw(chart) {
      const { ctx, scales } = chart;
      ctx.save();
      ctx.font = 'bold 13px "DejaVu Sans", sans-serif';
      ctx.fillStyle = "#000";
      ctx.textAlign = "center";
      ctx.textBaseline = "middle";
      mapRegionNames.forEach((n, i) => {
        ctx.fillText(n, scales.x.getPixelForValue(mapRegionLon[i]), scales.y.getPixelForValue(mapRegionLat[i]));
      });
      ctx.restore();
    }
  };

  const c = addCanvas(0, 0, 300, 330);
  new Chart(c, {
    type: "scatter",
    data: { datasets },
    options: {
      responsive: false,
      devicePixelRatio: 1,
      animation: false,
      layout: { padding: { top: 74, right: 16 } },
      plugins: { legend: { display: false }, tooltip: { enabled: false }, frame: { ticks: false } },
      scales: {
        x: fixedScale({
          type: "linear", min: 9.7, max: 51.8,
          afterBuildTicks: s => { s.ticks = mapLonTicks.map(v => ({ value: v })); },
          afterFit: s => { s.height = 28; },
          ticks: { padding: 1, maxRotation: 0, autoSkip: false, callback: v => v + "°E" }
        }),
        y: fixedScale({
          type: "linear", min: -39.85, max: 2.87,
          afterBuildTicks: s => { s.ticks = mapLatTicks.map(v => ({ value: v })); },
          afterFit: s => { s.width = 62; },
          ticks: { padding: 1, autoSkip: false, callback: v => (v === 0 ? "0°" : -v + "°S") }
        })
      }
    },
    plugins: [regionLabels, frame]
  });

  const box = document.createElement("div");
  box.id = "mapLegend";
  const rowY = [15, 40, 66, 91, 117];
  classNames.forEach((n, i) => {
    const dot = document.createElement("i");
    dot.style.top = rowY[i] - 10 + "px";
    dot.style.background = classColors[i];
    const t = document.createElement("div");
    t.textContent = n;
    t.style.top = rowY[i] - 11 + "px";
    box.append(dot, t);
  });
  document.body.appendChild(box);
}

function drawLegend() {
  const box = document.createElement("div");
  box.id = "legend";
  const keyX = [4, 161, 310, 478, 627, 787];
  const textX = [37, 193.5, 342, 511, 659, 819];
  const suffix = [" onset", " end"];
  const rowY = [2, 20];
  seriesNames.forEach((n, s) => {
    [0, 1].forEach(row => {
      const t = document.createElement("span");
      t.textContent = n + suffix[row];
      t.style.left = textX[s] + "px";
      t.style.top = rowY[row] + "px";
      box.appendChild(t);
      const col = seriesColors[s];
      const mark = x => row === 0
        ? `<circle cx="${x}" cy="9" r="3" fill="#fff" stroke="${col}" stroke-width="1.6"/>`
        : `<rect x="${x - 3.5}" y="5.5" width="7" height="7" fill="${col}"/>`;
      const bar = x => `<path d="M${x} 2V16M${x - 3} 2H${x + 3}M${x - 3} 16H${x + 3}" stroke="${col}" stroke-width="1.2" fill="none"/>`;
      const svg = `<svg xmlns="http://www.w3.org/2000/svg" width="26" height="18" style="left:${keyX[s]}px;top:${rowY[row] - 2}px"><path d="M5 9H21" stroke="${rgba(col, 0.7)}" stroke-width="1.2"/>${bar(5)}${bar(21)}${mark(5)}${mark(21)}</svg>`;
      box.insertAdjacentHTML("beforeend", svg);
    });
  });
  document.body.appendChild(box);
}

drawMap();
drawOverview();
drawRegion(12, 0, ROWS.c, -165, 135);
drawRegion(13, 1, ROWS.c, -90, 125);
drawRegion(14, 0, ROWS.e, -105, 125);
drawRegion(15, 1, ROWS.e, -104, 134);
drawRegion(16, 0, ROWS.g, -155, 175);
drawRegion(17, 1, ROWS.g, -115, 155);
drawLegend();

addLetter("a)", 35, 24);
addLetter("b)", 699, 5);
addLetter("c)", 62, 398);
addLetter("d)", 699, 398);
addLetter("e)", 62, 790);
addLetter("f)", 699, 786);
addLetter("g)", 62, 1190);
addLetter("h)", 699, 1186);
</script>
</body>
</html>
